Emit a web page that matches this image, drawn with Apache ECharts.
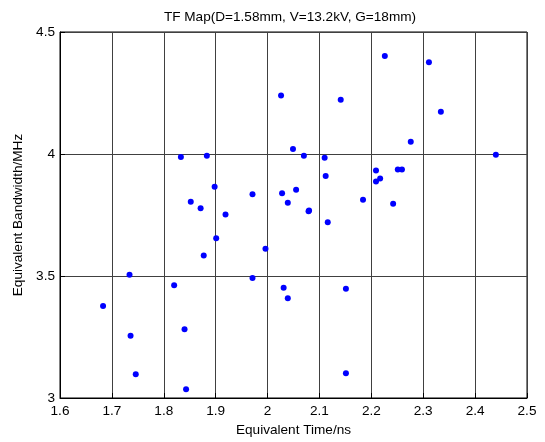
<!DOCTYPE html>
<html>
<head>
<meta charset="utf-8">
<script src="https://cdn.jsdelivr.net/npm/echarts@6/dist/echarts.min.js"></script>
<style>html,body{margin:0;padding:0;background:#fff;}#c{width:545px;height:442px;}</style>
</head>
<body>
<div id="c"></div>
<script>
var titleText = 'TF Map(D=1.58mm, V=13.2kV, G=18mm)';
var xName = 'Equivalent Time/ns';
var yName = 'Equivalent Bandwidth/MHz';
var xTicks = [1.6, 1.7, 1.8, 1.9, 2.0, 2.1, 2.2, 2.3, 2.4, 2.5];
var yTicks = [3, 3.5, 4, 4.5];
var timeNs = [1.683, 1.734, 1.736, 1.746, 1.820, 1.833, 1.840, 1.843, 1.852, 1.871,
  1.877, 1.883, 1.898, 1.901, 1.919, 1.971, 1.971, 1.996, 2.026, 2.028,
  2.031, 2.039, 2.039, 2.049, 2.055, 2.070, 2.079, 2.080, 2.110, 2.112,
  2.116, 2.141, 2.151, 2.151, 2.184, 2.209, 2.209, 2.217, 2.226, 2.242,
  2.251, 2.259, 2.276, 2.311, 2.334, 2.440];
var bandwidthMHz = [3.377, 3.505, 3.255, 3.097, 3.462, 3.988, 3.282, 3.036, 3.804, 3.778,
  3.584, 3.993, 3.866, 3.655, 3.752, 3.835, 3.492, 3.612, 4.240, 3.839,
  3.452, 3.409, 3.800, 4.020, 3.853, 3.993, 3.765, 3.768, 3.985, 3.910,
  3.720, 4.222, 3.448, 3.101, 3.813, 3.932, 3.887, 3.900, 4.402, 3.796,
  3.936, 3.936, 4.050, 4.376, 4.173, 3.997];

var pts = timeNs.map(function (t, i) { return [t, bandwidthMHz[i]]; });
var font = 'Liberation Sans, Arial, sans-serif';
var fs = 13.6;
var chart = echarts.init(document.getElementById('c'), null, {renderer: 'canvas'});
chart.setOption({
  animation: false,
  backgroundColor: '#fff',
  title: {
    text: titleText, left: 285, top: 5, textAlign: 'center',
    textStyle: {fontFamily: font, fontSize: fs, fontWeight: 'normal', color: '#000'}
  },
  grid: {left: 60, right: 18, top: 32, bottom: 43, show: true, borderColor: '#000', borderWidth: 1},
  xAxis: {
    type: 'value', min: xTicks[0], max: xTicks[xTicks.length - 1], interval: 0.1,
    name: xName, nameLocation: 'middle', nameGap: 25,
    nameTextStyle: {fontFamily: font, fontSize: fs, color: '#000'},
    axisLine: {show: true, lineStyle: {color: '#000'}},
    axisTick: {show: true, inside: true, length: 5, lineStyle: {color: '#000'}},
    axisLabel: {fontFamily: font, fontSize: fs, color: '#000', margin: 6,
      formatter: function (v) { return String(Math.round(v * 10) / 10); }},
    splitLine: {show: true, lineStyle: {color: '#404040', width: 1}}
  },
  yAxis: {
    type: 'value', min: yTicks[0], max: yTicks[yTicks.length - 1], interval: 0.5,
    name: yName, nameLocation: 'middle', nameGap: 30,
    nameTextStyle: {fontFamily: font, fontSize: fs, color: '#000'},
    axisLine: {show: true, lineStyle: {color: '#000'}},
    axisTick: {show: true, inside: true, length: 5, lineStyle: {color: '#000'}},
    axisLabel: {fontFamily: font, fontSize: fs, color: '#000', margin: 5,
      formatter: function (v) { return String(Math.round(v * 10) / 10); }},
    splitLine: {show: true, lineStyle: {color: '#404040', width: 1}}
  },
  series: [{
    type: 'scatter', data: pts, symbol: 'circle', symbolSize: 6,
    itemStyle: {color: '#0000ff', opacity: 1}
  }]
});
</script>
</body>
</html>
